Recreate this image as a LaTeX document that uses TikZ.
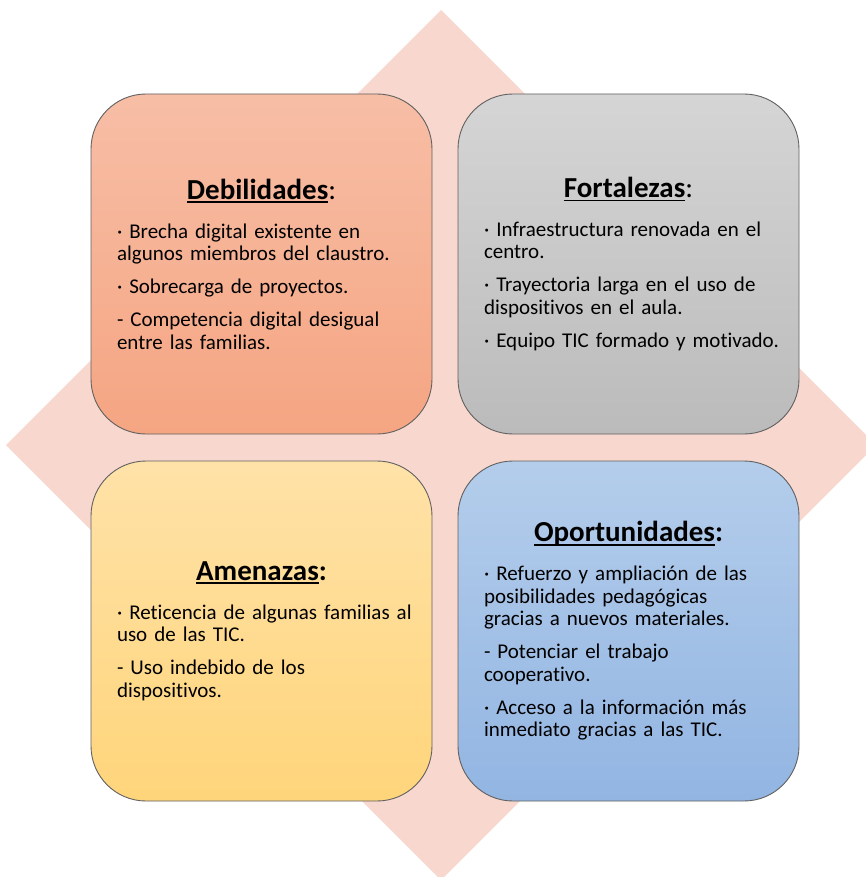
\documentclass[tikz,border=0pt]{standalone}
\usepackage{fontspec}
\setmainfont{Carlito}[Ligatures={NoCommon,NoRare},WordSpace=0.85]

\definecolor{diamondpink}{HTML}{F8D8CE}
\definecolor{boxline}{HTML}{606060}
\definecolor{debtop}{HTML}{F7BEA6}
\definecolor{debbot}{HTML}{F5A582}
\definecolor{forttop}{HTML}{D5D5D5}
\definecolor{fortbot}{HTML}{BBBBBB}
\definecolor{amentop}{HTML}{FFE2A8}
\definecolor{amenbot}{HTML}{FFD57B}
\definecolor{oporttop}{HTML}{B4CDEB}
\definecolor{oportbot}{HTML}{92B5E2}

\newcommand\swotfont{\fontsize{21}{22.5}\selectfont}
\newcommand\swotline[1]{\setbox0\hbox{#1}\rlap{\rule[-4pt]{\wd0}{1.8pt}}\box0}
\newcommand\swothead[2]{{\centering\fontsize{29}{32}\selectfont\bfseries
  \swotline{#1}#2\par}\vspace{6pt}\raggedright\leftskip=13pt\parskip=10.5pt\relax}

\begin{document}
\begin{tikzpicture}[x=1pt,y=-1pt,node distance=367pt,
    swot box/.style={draw=boxline,line width=0.9pt,rounded corners=55pt,
      minimum width=341pt,minimum height=340pt,text width=315pt,
      inner sep=0pt,font=\swotfont}]
  \useasboundingbox (0,0) rectangle (866,877);
  % background diamond
  \begin{scope}
    \clip (0,0) rectangle (866,877);
    \fill[diamondpink] (441,10) -- (876,445) -- (441,880) -- (6,445) -- cycle;
  \end{scope}
  \node[swot box,top color=debtop,bottom color=debbot] (deb) at (261.5,264)
    {\swothead{Debilidades}{\mdseries:}
     · Brecha digital existente en\newline algunos miembros del claustro.\par
     · Sobrecarga de proyectos.\par
     - Competencia digital desigual\newline entre las familias.\par};
  \node[swot box,top color=forttop,bottom color=fortbot] (fort) [right of=deb]
    {\swothead{Fortalezas}{\mdseries:}
     · Infraestructura renovada en el\newline centro.\par
     · Trayectoria larga en el uso de\newline dispositivos en el aula.\par
     · Equipo TIC formado y motivado.\par};
  \node[swot box,top color=amentop,bottom color=amenbot] (amen) [below of=deb]
    {\swothead{Amenazas}{:}
     · Reticencia de algunas familias al\newline uso de las TIC.\par
     - Uso indebido de los\newline dispositivos.\par};
  \node[swot box,top color=oporttop,bottom color=oportbot] (oport) [right of=amen]
    {\swothead{Oportunidades}{:}
     · Refuerzo y ampliación de las\newline posibilidades pedagógicas\newline
       gracias a nuevos materiales.\par
     - Potenciar el trabajo\newline cooperativo.\par
     · Acceso a la información más\newline inmediato gracias a las TIC.\par};
\end{tikzpicture}
\end{document}
